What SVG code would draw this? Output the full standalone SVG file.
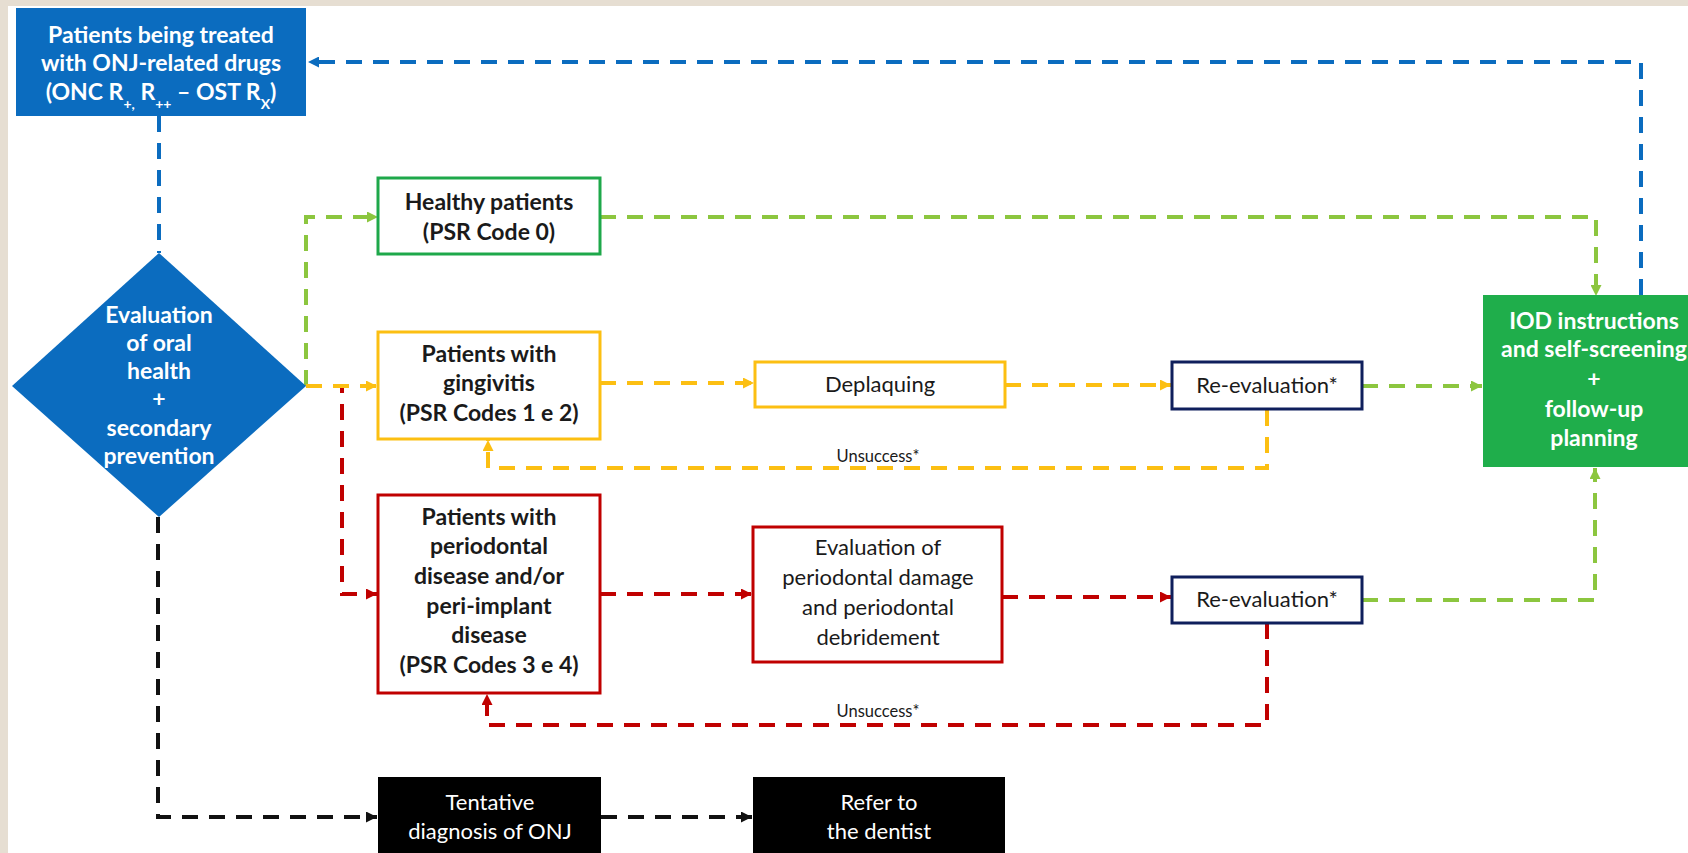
<svg xmlns="http://www.w3.org/2000/svg" width="1688" height="853" viewBox="0 0 1688 853">
<defs>
<style>
.t{font-family:Lato,"Liberation Sans",sans-serif;font-size:22px;text-anchor:middle}
.b{font-weight:bold;font-size:23px}
.w{fill:#ffffff}
.k{fill:#1a1a1a}
.sm{font-size:16.5px}
.c{fill:none;stroke-width:4;stroke-dasharray:16 11}
.cb{stroke:#0b6cbf}.cg{stroke:#8cc63f}.cy{stroke:#fcbf12}.cr{stroke:#c00000}.ck{stroke:#111111}
.box{fill:#ffffff;stroke-width:3}
</style>
<marker id="ab" viewBox="0 0 10 10" refX="10" refY="5" markerWidth="11" markerHeight="11" markerUnits="userSpaceOnUse" orient="auto"><path d="M0,0L10,5L0,10z" fill="#0b6cbf"/></marker>
<marker id="ag" viewBox="0 0 10 10" refX="10" refY="5" markerWidth="11" markerHeight="11" markerUnits="userSpaceOnUse" orient="auto"><path d="M0,0L10,5L0,10z" fill="#8cc63f"/></marker>
<marker id="ay" viewBox="0 0 10 10" refX="10" refY="5" markerWidth="11" markerHeight="11" markerUnits="userSpaceOnUse" orient="auto"><path d="M0,0L10,5L0,10z" fill="#fcbf12"/></marker>
<marker id="ar" viewBox="0 0 10 10" refX="10" refY="5" markerWidth="11" markerHeight="11" markerUnits="userSpaceOnUse" orient="auto"><path d="M0,0L10,5L0,10z" fill="#c00000"/></marker>
<marker id="ak" viewBox="0 0 10 10" refX="10" refY="5" markerWidth="11" markerHeight="11" markerUnits="userSpaceOnUse" orient="auto"><path d="M0,0L10,5L0,10z" fill="#111111"/></marker>
</defs>
<rect x="0" y="0" width="1688" height="853" fill="#ffffff"/>
<rect x="0" y="0" width="8" height="853" fill="#e6ded2"/>
<rect x="0" y="0" width="1688" height="6" fill="#e6ded2"/>

<g id="connectors">
<path class="c cb" d="M159,116V253"/>
<path class="c cb" d="M1641,295V62H308" marker-end="url(#ab)"/>
<path class="c cg" d="M306,386V217H378" marker-end="url(#ag)"/>
<path class="c cg" d="M600,217H1596V296" marker-end="url(#ag)"/>
<path class="c cg" d="M1362,386H1482" marker-end="url(#ag)"/>
<path class="c cg" d="M1362,600H1595V468" marker-end="url(#ag)"/>
<path class="c cr" d="M306,386H342V594H377" marker-end="url(#ar)"/>
<path class="c cy" d="M306,386H377" marker-end="url(#ay)"/>
<path class="c cy" d="M600,383H754" marker-end="url(#ay)"/>
<path class="c cy" d="M1005,385H1171" marker-end="url(#ay)"/>
<path class="c cy" d="M1267,410V468H488V440" marker-end="url(#ay)"/>
<path class="c cr" d="M600,594H752" marker-end="url(#ar)"/>
<path class="c cr" d="M1002,597H1171" marker-end="url(#ar)"/>
<path class="c cr" d="M1267,623V725H487V694" marker-end="url(#ar)"/>
<path class="c ck" d="M158,517V817H377" marker-end="url(#ak)"/>
<path class="c ck" d="M601,817H752" marker-end="url(#ak)"/>
<text class="t sm k" x="878" y="462">Unsuccess*</text>
<text class="t sm k" x="878" y="717">Unsuccess*</text>
</g>

<g id="start">
<rect x="16" y="8" width="290" height="108" fill="#0b6cbf"/>
<text class="t b w" x="161" y="43">Patients being treated</text>
<text class="t b w" x="161" y="71">with ONJ-related drugs</text>
<text class="t b w" x="161" y="100">(ONC R<tspan font-size="14" baseline-shift="sub">+,</tspan> R<tspan font-size="14" baseline-shift="sub">++</tspan> – OST R<tspan font-size="14" baseline-shift="sub">X</tspan>)</text>
</g>

<g id="evaluation">
<path d="M159,253L306,386L159,517L12,386z" fill="#0b6cbf"/>
<text class="t b w" x="159" y="323">Evaluation</text>
<text class="t b w" x="159" y="351">of oral</text>
<text class="t b w" x="159" y="379">health</text>
<text class="t b w" x="159" y="407">+</text>
<text class="t b w" x="159" y="436">secondary</text>
<text class="t b w" x="159" y="464">prevention</text>
</g>

<g id="healthy">
<rect class="box" x="378" y="178" width="222" height="76" stroke="#1ea84a"/>
<text class="t b k" x="489" y="210">Healthy patients</text>
<text class="t b k" x="489" y="240">(PSR Code 0)</text>
</g>

<g id="gingivitis">
<rect class="box" x="378" y="332" width="222" height="107" stroke="#fcbf12"/>
<text class="t b k" x="489" y="362">Patients with</text>
<text class="t b k" x="489" y="391">gingivitis</text>
<text class="t b k" x="489" y="421">(PSR Codes 1 e 2)</text>
</g>

<g id="deplaquing">
<rect class="box" x="755" y="362" width="250" height="45" stroke="#fcbf12"/>
<text class="t k" x="880" y="392">Deplaquing</text>
</g>

<g id="reeval1">
<rect class="box" x="1172" y="362" width="190" height="47" stroke="#0f1f5c"/>
<text class="t k" x="1267" y="393">Re-evaluation*</text>
</g>

<g id="iod">
<rect x="1483" y="295" width="222" height="172" fill="#1fae4b"/>
<text class="t b w" x="1594" y="329">IOD instructions</text>
<text class="t b w" x="1594" y="357">and self-screening</text>
<text class="t b w" x="1594" y="387">+</text>
<text class="t b w" x="1594" y="417">follow-up</text>
<text class="t b w" x="1594" y="446">planning</text>
</g>

<g id="periodontal">
<rect class="box" x="378" y="495" width="222" height="198" stroke="#c00000"/>
<text class="t b k" x="489" y="525">Patients with</text>
<text class="t b k" x="489" y="554">periodontal</text>
<text class="t b k" x="489" y="584">disease and/or</text>
<text class="t b k" x="489" y="614">peri-implant</text>
<text class="t b k" x="489" y="643">disease</text>
<text class="t b k" x="489" y="673">(PSR Codes 3 e 4)</text>
</g>

<g id="debridement">
<rect class="box" x="753" y="527" width="249" height="135" stroke="#c00000"/>
<text class="t k" x="878" y="555">Evaluation of</text>
<text class="t k" x="878" y="585">periodontal damage</text>
<text class="t k" x="878" y="615">and periodontal</text>
<text class="t k" x="878" y="645">debridement</text>
</g>

<g id="reeval2">
<rect class="box" x="1172" y="577" width="190" height="46" stroke="#0f1f5c"/>
<text class="t k" x="1267" y="607">Re-evaluation*</text>
</g>

<g id="tentative">
<rect x="378" y="777" width="223" height="80" fill="#000000"/>
<text class="t w" x="490" y="810">Tentative</text>
<text class="t w" x="490" y="839">diagnosis of ONJ</text>
</g>

<g id="refer">
<rect x="753" y="777" width="252" height="80" fill="#000000"/>
<text class="t w" x="879" y="810">Refer to</text>
<text class="t w" x="879" y="839">the dentist</text>
</g>
</svg>
